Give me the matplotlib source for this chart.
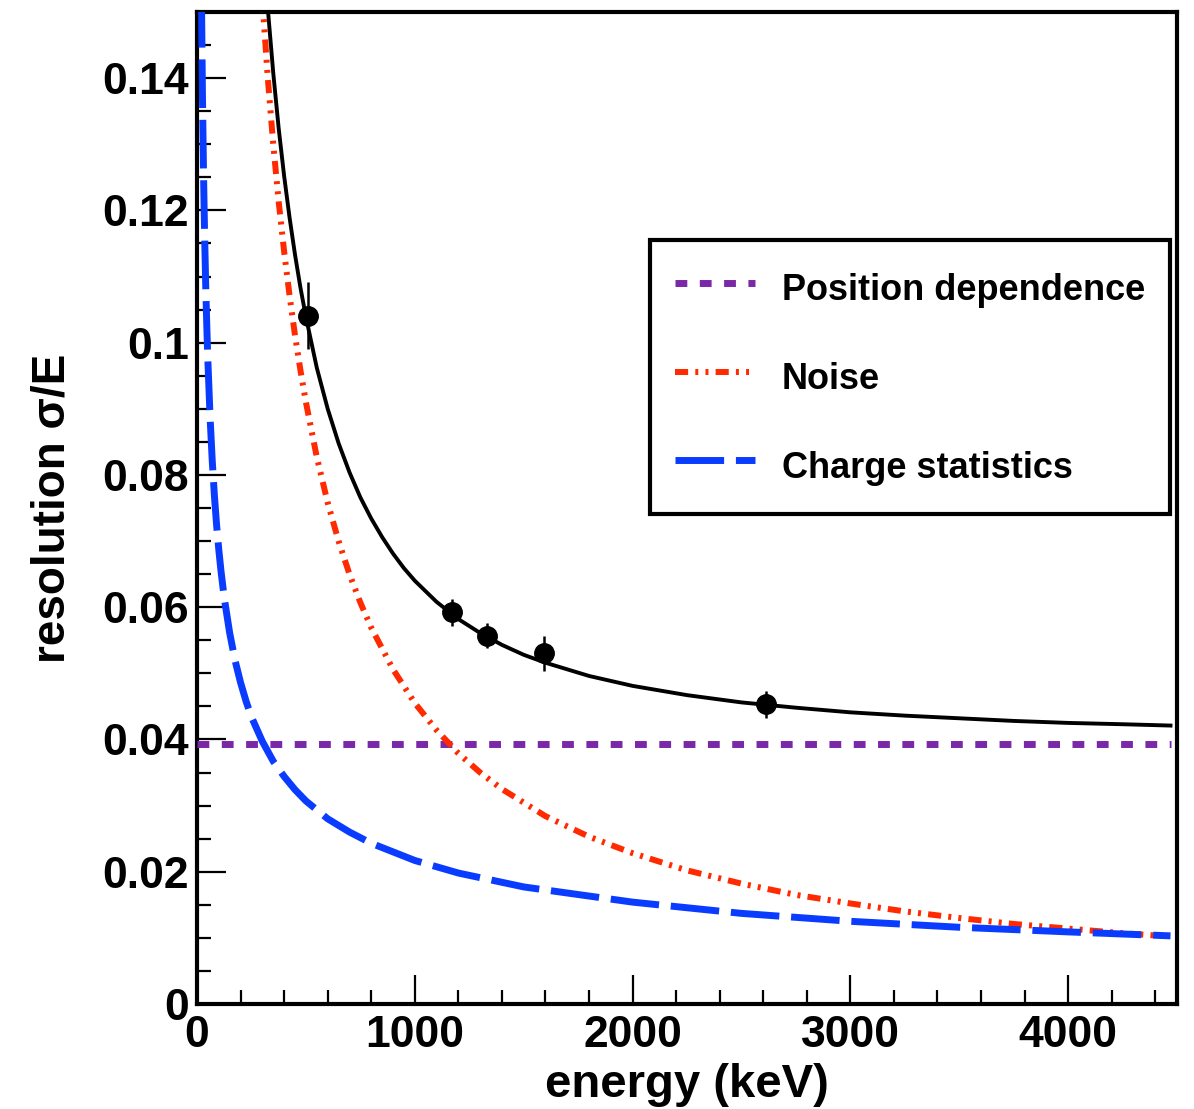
import matplotlib
matplotlib.use("Agg")
import matplotlib.pyplot as plt
from matplotlib.ticker import MultipleLocator, FuncFormatter

plt.rcParams['font.family'] = ['Liberation Sans', 'DejaVu Sans']
plt.rcParams['font.weight'] = 'bold'

# measured peaks (keV) and resolution
peak_e = [511, 1173, 1333, 1592, 2614]
peak_res = [0.1041, 0.0592, 0.0557, 0.0530, 0.0453]
peak_err = [0.0050, 0.0021, 0.0019, 0.0027, 0.0020]

# total fitted resolution curve
total_e = [320, 350, 375, 400, 425, 450, 475, 500, 550, 600, 650, 700, 750, 800, 850,
           900, 950, 1000, 1100, 1200, 1300, 1400, 1500, 1600, 1800, 2000, 2250, 2500,
           2750, 3000, 3250, 3500, 3750, 4000, 4250, 4470]
total_res = [0.1525, 0.1408, 0.1324, 0.1252, 0.1189, 0.1133, 0.1083, 0.1039, 0.0962,
             0.0900, 0.0848, 0.0804, 0.0766, 0.0734, 0.0706, 0.0681, 0.0659, 0.0640,
             0.0608, 0.0582, 0.0561, 0.0543, 0.0528, 0.0516, 0.0496, 0.0481, 0.0467,
             0.0456, 0.0448, 0.0441, 0.0436, 0.0432, 0.0428, 0.0425, 0.0423, 0.0421]

# position dependence (flat)
pos_e = [0, 4470]
pos_res = [0.0393, 0.0393]

# noise term
noise_e = [295, 325, 350, 375, 400, 425, 450, 475, 500, 550, 600, 650, 700, 750, 800,
           900, 1000, 1100, 1200, 1300, 1400, 1600, 1800, 2000, 2250, 2500, 2750, 3000,
           3250, 3500, 3750, 4000, 4250, 4470]
noise_res = [0.1542, 0.1400, 0.1300, 0.1213, 0.1138, 0.1071, 0.1011, 0.0958, 0.0910,
             0.0827, 0.0758, 0.0700, 0.0650, 0.0607, 0.0569, 0.0506, 0.0455, 0.0414,
             0.0379, 0.0350, 0.0325, 0.0284, 0.0253, 0.0228, 0.0202, 0.0182, 0.0165,
             0.0152, 0.0140, 0.0130, 0.0121, 0.0114, 0.0107, 0.0102]

# charge statistics term
charge_e = [20, 25, 30, 35, 40, 45, 50, 60, 70, 80, 90, 100, 110, 125, 150, 175, 200,
            225, 250, 300, 350, 400, 450, 500, 600, 700, 800, 1000, 1200, 1500, 2000,
            2500, 3000, 3500, 4000, 4470]
charge_res = [0.1536, 0.1374, 0.1254, 0.1161, 0.1086, 0.1024, 0.0972, 0.0887, 0.0821,
              0.0768, 0.0724, 0.0687, 0.0655, 0.0614, 0.0561, 0.0519, 0.0486, 0.0458,
              0.0434, 0.0397, 0.0367, 0.0344, 0.0324, 0.0307, 0.0280, 0.0260, 0.0243,
              0.0217, 0.0198, 0.0177, 0.0154, 0.0137, 0.0125, 0.0116, 0.0109, 0.0103]

fig = plt.figure(figsize=(11.94, 11.09), dpi=100)
ax = fig.add_axes([0.165, 0.0947, 0.8208, 0.8945])

ax.plot(total_e, total_res, color='black', lw=2.8, zorder=4)
ax.plot(pos_e, pos_res, color='#7a28a8', lw=5, linestyle=(0, (1.7, 1.8)),
        label='Position dependence', zorder=3)
ax.plot(noise_e, noise_res, color='#ff2a00', lw=4.3,
        linestyle=(0, (2.2, 1.2, 0.5, 1.2, 0.5, 1.2)), label='Noise', zorder=3)
ax.plot(charge_e, charge_res, color='#0a3cff', lw=5, linestyle=(0, (7, 1.7)),
        label='Charge statistics', zorder=3)
ax.errorbar(peak_e, peak_res, yerr=peak_err, fmt='o', color='black', ms=14,
            elinewidth=1.8, capsize=0, zorder=5)

ax.set_xlim(0, 4500)
ax.set_ylim(0, 0.15)
ax.xaxis.set_major_locator(MultipleLocator(1000))
ax.xaxis.set_minor_locator(MultipleLocator(200))
ax.yaxis.set_major_locator(MultipleLocator(0.02))
ax.yaxis.set_minor_locator(MultipleLocator(0.005))
ax.yaxis.set_major_formatter(FuncFormatter(lambda v, p: '%g' % round(v, 4)))
ax.tick_params(which='both', direction='in', width=1.6, labelsize=32)
ax.tick_params(which='major', length=21)
ax.tick_params(which='minor', length=10)
ax.tick_params(axis='x', pad=8)
ax.tick_params(axis='y', pad=6)
for s in ax.spines.values():
    s.set_linewidth(3)

ax.set_xlabel('energy (keV)', fontsize=34, fontweight='bold', labelpad=5)
ax.set_ylabel('resolution \u03c3/E', fontsize=33, fontweight='bold', labelpad=20)

leg = ax.legend(loc='upper left', bbox_to_anchor=(0.462, 0.770), fontsize=26,
                frameon=True, fancybox=False, edgecolor='black', framealpha=1,
                handlelength=2.2, handleheight=1.6, handletextpad=0.75,
                labelspacing=1.17, borderpad=0.7, borderaxespad=0)
leg.get_frame().set_linewidth(3)

fig.savefig('out.png', dpi=100)
